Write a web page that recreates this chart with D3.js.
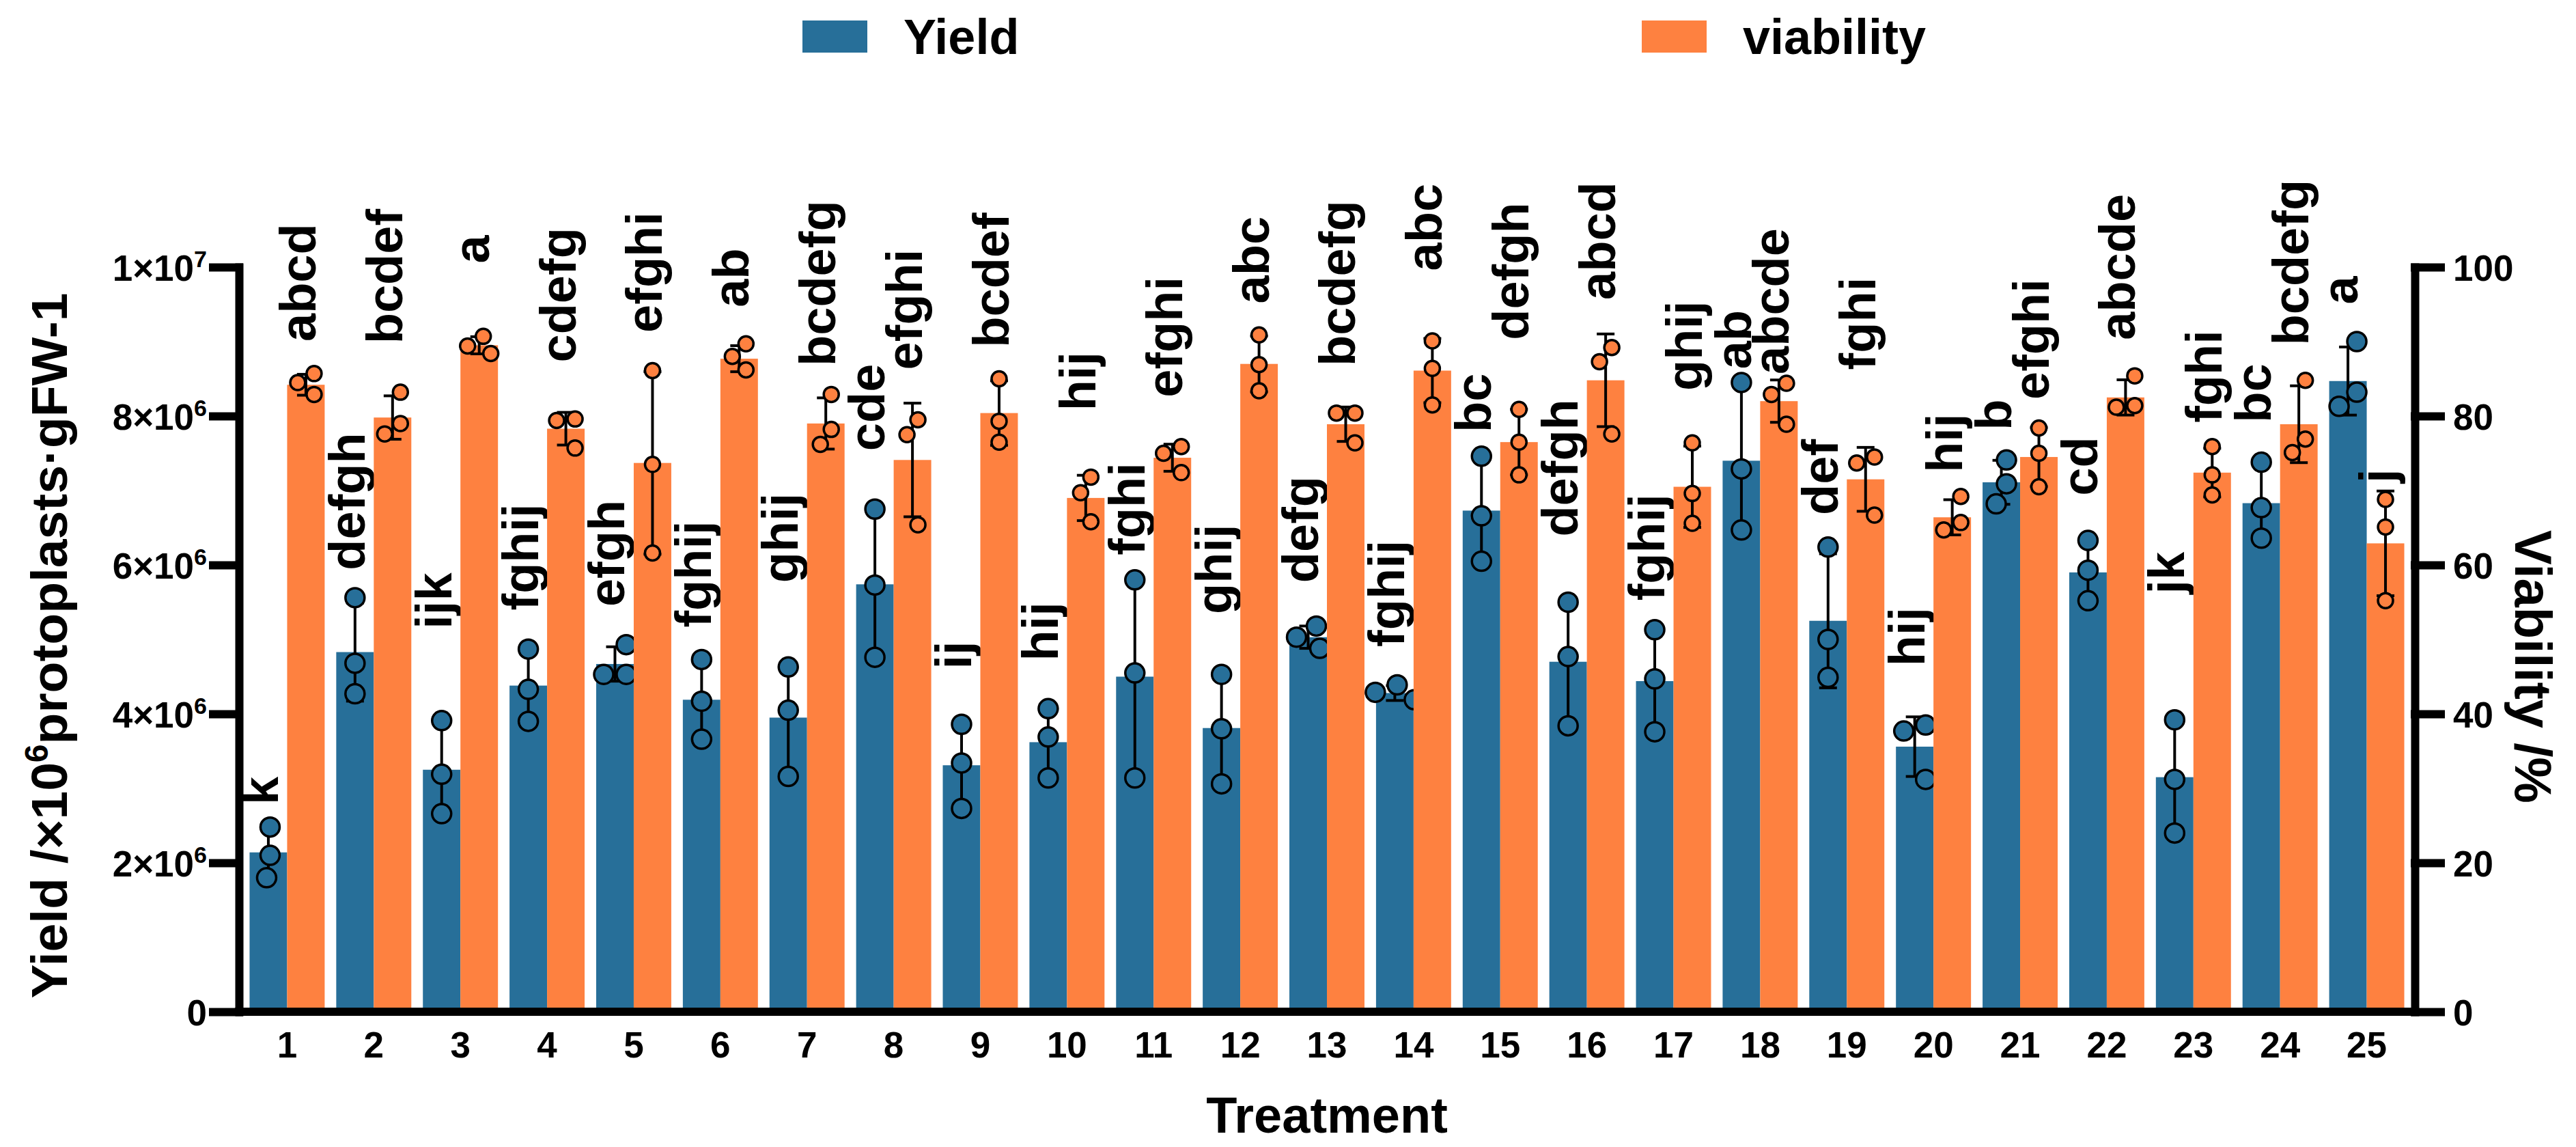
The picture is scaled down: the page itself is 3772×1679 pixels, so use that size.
<!DOCTYPE html>
<html>
<head>
<meta charset="utf-8">
<script src="https://cdn.jsdelivr.net/npm/d3@7/dist/d3.min.js"></script>
<style>
  body { margin: 0; background: #fff; }
  text { font-family: "Liberation Sans", Arial, Helvetica, sans-serif; font-weight: bold; fill: #000; }
</style>
</head>
<body>
<div id="chart"></div>
<script>
// Data

var treatments = ["1", "2", "3", "4", "5", "6", "7", "8", "9", "10", "11", "12", "13",
                  "14", "15", "16", "17", "18", "19", "20", "21", "22", "23", "24", "25"];

// yield, x10^6 protoplasts per gFW
var yieldMean = [2.14, 4.83, 3.25, 4.38, 4.67, 4.19, 3.95, 5.74, 3.31, 3.62, 4.50, 3.81, 5.03,
                 4.28, 6.73, 4.70, 4.44, 7.40, 5.25, 3.56, 7.11, 5.90, 3.15, 6.83, 8.47];

var yieldReps = [
  [2.48, 2.10, 1.80], [5.56, 4.68, 4.27], [3.91, 3.19, 2.66], [4.87, 4.33, 3.90], [4.93, 4.53, 4.53],
  [4.73, 4.17, 3.66], [4.63, 4.05, 3.16], [6.75, 5.73, 4.76], [3.86, 3.34, 2.73], [4.07, 3.69, 3.14],
  [5.80, 4.55, 3.14], [4.53, 3.80, 3.06], [5.18, 5.03, 4.88], [4.39, 4.29, 4.19], [7.46, 6.66, 6.05],
  [5.50, 4.77, 3.84], [5.13, 4.47, 3.76], [8.45, 7.29, 6.47], [6.24, 5.00, 4.49], [3.85, 3.77, 3.12],
  [7.41, 7.09, 6.82], [6.33, 5.93, 5.52], [3.92, 3.12, 2.40], [7.38, 6.77, 6.36], [9.00, 8.32, 8.13]
];

var yieldLetters = ["k", "defgh", "ijk", "fghij", "efgh", "fghij", "ghij", "cde", "ij", "hij", "fghi", "ghij", "defg",
                    "fghij", "bc", "defgh", "fghij", "ab", "def", "hij", "b", "cd", "jk", "bc", "a"];

// height (x10^6) where each letter label starts
var yieldLabelAt = [2.78, 5.93, 5.14, 5.39, 5.44, 5.16, 5.76, 7.53, 4.60, 4.71, 6.13, 5.34, 5.76,
                    4.90, 7.78, 6.38, 5.52, 8.63, 6.67, 4.64, 7.81, 6.93, 5.61, 7.91, 9.50];

// viability, %
var viabMean = [84.2, 79.8, 89.5, 78.3, 73.7, 87.7, 79.0, 74.1, 80.4, 69.0, 74.4, 87.0, 78.9,
                86.1, 76.5, 84.8, 70.5, 82.0, 71.5, 66.4, 74.5, 82.5, 72.4, 78.9, 62.9];

var viabReps = [
  [85.7, 84.5, 82.9], [83.2, 79.0, 77.6], [90.7, 89.4, 88.4], [79.6, 79.4, 75.7], [86.1, 73.5, 61.6],
  [89.7, 88.0, 86.2], [82.9, 78.2, 76.2], [79.5, 77.5, 65.4], [85.0, 79.3, 76.5], [71.8, 69.7, 65.8],
  [75.9, 75.0, 72.4], [90.9, 86.9, 83.4], [80.4, 80.4, 76.4], [90.1, 86.4, 81.5], [80.9, 76.5, 72.1],
  [89.2, 87.3, 77.6], [76.4, 69.6, 65.6], [84.4, 82.9, 78.9], [74.5, 73.7, 66.7], [69.2, 65.7, 64.7],
  [78.4, 75.0, 70.5], [85.4, 81.4, 81.2], [75.9, 72.1, 69.4], [84.8, 76.9, 75.1], [68.8, 65.1, 55.2]
];

var viabLetters = ["abcd", "bcdef", "a", "cdefg", "efghi", "ab", "bcdefg", "efghi", "bcdef", "hij", "efghi", "abc", "bcdefg",
                   "abc", "defgh", "abcd", "ghij", "abcde", "fghi", "hij", "efghi", "abcde", "fghi", "bcdefg", "j"];

var viabLabelAt = [90.0, 89.7, 100.5, 87.2, 91.2, 94.6, 86.7, 86.2, 89.2, 80.7, 82.5, 95.1, 86.7,
                   99.5, 90.2, 95.6, 83.4, 85.6, 86.2, 72.4, 82.2, 90.2, 79.1, 89.5, 71.0];

var yieldTicks = [0, 2, 4, 6, 8, 10];
var viabTicks = [0, 20, 40, 60, 80, 100];

// Set up chart
var svgWidth = 3772;
var svgHeight = 1679;

var margin = { top: 391, right: 236, bottom: 198, left: 350 };
var width = svgWidth - margin.left - margin.right;
var height = svgHeight - margin.top - margin.bottom;

var blue = "#276f99";
var orange = "#fe8140";

var svg = d3.select("#chart")
  .append("svg")
  .attr("width", svgWidth)
  .attr("height", svgHeight);

var chartGroup = svg.append("g")
  .attr("transform", `translate(${margin.left}, ${margin.top})`);

// Scales
var xScale = d3.scaleBand()
  .domain(treatments)
  .range([7, width - 7]);

var xSub = d3.scaleBand()
  .domain(["yield", "viability"])
  .range([0, xScale.bandwidth()])
  .paddingOuter(0.154);

var yLeft = d3.scaleLinear().domain([0, 10]).range([height, 0]);
var yRight = d3.scaleLinear().domain([0, 100]).range([height, 0]);

var series = [
  { key: "yield", mean: yieldMean, reps: yieldReps, letters: yieldLetters, labelAt: yieldLabelAt,
    scale: yLeft, color: blue, r: 14 },
  { key: "viability", mean: viabMean, reps: viabReps, letters: viabLetters, labelAt: viabLabelAt,
    scale: yRight, color: orange, r: 11 }
];

function centerX(s, i) {
  return xScale(treatments[i]) + xSub(s.key) + xSub.bandwidth() / 2;
}

// spread overlapping replicate dots sideways, then center them
function spread(values, y, minDist) {
  var placed = [];
  values.forEach(function(v) {
    var py = y(v);
    var dx = 0;
    for (var k = 0; k < 200; k++) {
      var cand = (k % 2 === 0 ? 1 : -1) * Math.ceil(k / 2);
      var ok = placed.every(function(p) {
        return Math.hypot(p.dx - cand, p.y - py) >= minDist;
      });
      if (ok) { dx = cand; break; }
    }
    placed.push({ y: py, dx: dx, v: v });
  });
  var mid = (d3.min(placed, p => p.dx) + d3.max(placed, p => p.dx)) / 2;
  placed.forEach(p => p.dx -= mid);
  return placed;
}

series.forEach(function(s) {
  var g = chartGroup.append("g").attr("class", "series-" + s.key);

  // bars
  g.selectAll("rect")
    .data(treatments)
    .enter()
    .append("rect")
    .attr("x", (d, i) => xScale(d) + xSub(s.key))
    .attr("width", xSub.bandwidth())
    .attr("y", (d, i) => s.scale(s.mean[i]))
    .attr("height", (d, i) => height - s.scale(s.mean[i]))
    .attr("fill", s.color);

  // error bars (mean +/- SD)
  treatments.forEach(function(t, i) {
    var cx = centerX(s, i);
    var sd = d3.deviation(s.reps[i]);
    var hi = s.scale(s.mean[i] + sd);
    var lo = s.scale(s.mean[i] - sd);
    var eb = g.append("g").attr("stroke", "#000").attr("stroke-width", 4).attr("fill", "none");
    eb.append("line").attr("x1", cx).attr("x2", cx).attr("y1", hi).attr("y2", lo);
    eb.append("line").attr("x1", cx - 13).attr("x2", cx + 13).attr("y1", hi).attr("y2", hi);
    eb.append("line").attr("x1", cx - 13).attr("x2", cx + 13).attr("y1", lo).attr("y2", lo);
  });

  // replicate dots
  treatments.forEach(function(t, i) {
    var cx = centerX(s, i);
    var pts = spread(s.reps[i], s.scale, 2 * s.r + 5);
    g.selectAll(null)
      .data(pts)
      .enter()
      .append("circle")
      .attr("cx", p => cx + p.dx)
      .attr("cy", p => p.y)
      .attr("r", s.r)
      .attr("fill", s.color)
      .attr("stroke", "#000")
      .attr("stroke-width", 3.5);
  });

  // significance letters
  g.selectAll("text.letter")
    .data(treatments)
    .enter()
    .append("text")
    .attr("class", "letter")
    .attr("transform", (d, i) => `translate(${centerX(s, i) + 14}, ${s.scale(s.labelAt[i])}) rotate(-90)`)
    .attr("text-anchor", "start")
    .attr("font-size", 74)
    .text((d, i) => s.letters[i]);
});

// Axes
function sciLabel(sel, v) {
  var val = v * 1e6;
  if (val === 0) { sel.text("0"); return; }
  var e = Math.floor(Math.log10(val) + 1e-9);
  var m = Math.round(val / Math.pow(10, e));
  sel.text(null);
  sel.append("tspan").text(m + "\u00d710");
  sel.append("tspan").attr("dy", -20).attr("font-size", 34).text(e);
}

var leftAxis = d3.axisLeft(yLeft)
  .tickValues(yieldTicks)
  .tickSize(38)
  .tickSizeOuter(0)
  .tickPadding(9)
  .tickFormat("");

var rightAxis = d3.axisRight(yRight)
  .tickValues(viabTicks)
  .tickSize(38)
  .tickSizeOuter(0)
  .tickPadding(18);

var bottomAxis = d3.axisBottom(xScale)
  .tickSize(0)
  .tickSizeOuter(0)
  .tickPadding(29);

var gLeft = chartGroup.append("g").call(leftAxis);
gLeft.selectAll(".tick text").each(function(d) { sciLabel(d3.select(this), d); });

var gRight = chartGroup.append("g")
  .attr("transform", `translate(${width}, 0)`)
  .call(rightAxis);

var gBottom = chartGroup.append("g")
  .attr("transform", `translate(0, ${height})`)
  .call(bottomAxis);
gBottom.select(".domain").attr("d", `M0,0H${width}`);

[gLeft, gRight, gBottom].forEach(function(ax) {
  ax.attr("font-family", null).attr("font-size", null);
  ax.selectAll(".domain, .tick line")
    .attr("stroke", "#000")
    .attr("stroke-width", 12)
    .attr("stroke-linecap", "square");
  ax.selectAll(".tick text")
    .attr("font-size", 53)
    .attr("fill", "#000");
});
gLeft.selectAll(".tick text").attr("dy", "0.36em");
gRight.selectAll(".tick text").attr("dy", "0.36em");

// Axis titles
var leftTitle = svg.append("text")
  .attr("transform", "translate(98, 945) rotate(-90)")
  .attr("text-anchor", "middle")
  .attr("font-size", 75);
leftTitle.append("tspan").text("Yield /\u00d710");
leftTitle.append("tspan").attr("dy", -28).attr("font-size", 48).text("6");
leftTitle.append("tspan").attr("dy", 28).text("protoplasts\u00b7gFW-1");

svg.append("text")
  .attr("transform", "translate(3683, 976) rotate(90)")
  .attr("text-anchor", "middle")
  .attr("font-size", 76)
  .text("Viability /%");

svg.append("text")
  .attr("x", margin.left + width / 2)
  .attr("y", 1658)
  .attr("text-anchor", "middle")
  .attr("font-size", 74)
  .text("Treatment");

// Legend
var legendItems = [
  { label: "Yield", color: blue, x: 1175 },
  { label: "viability", color: orange, x: 2404 }
];

var legend = svg.append("g").attr("class", "legend");
legendItems.forEach(function(item) {
  legend.append("rect")
    .attr("x", item.x)
    .attr("y", 30)
    .attr("width", 95)
    .attr("height", 47)
    .attr("fill", item.color);
  legend.append("text")
    .attr("x", item.x + 148)
    .attr("y", 79)
    .attr("font-size", 72)
    .text(item.label);
});
</script>
</body>
</html>
